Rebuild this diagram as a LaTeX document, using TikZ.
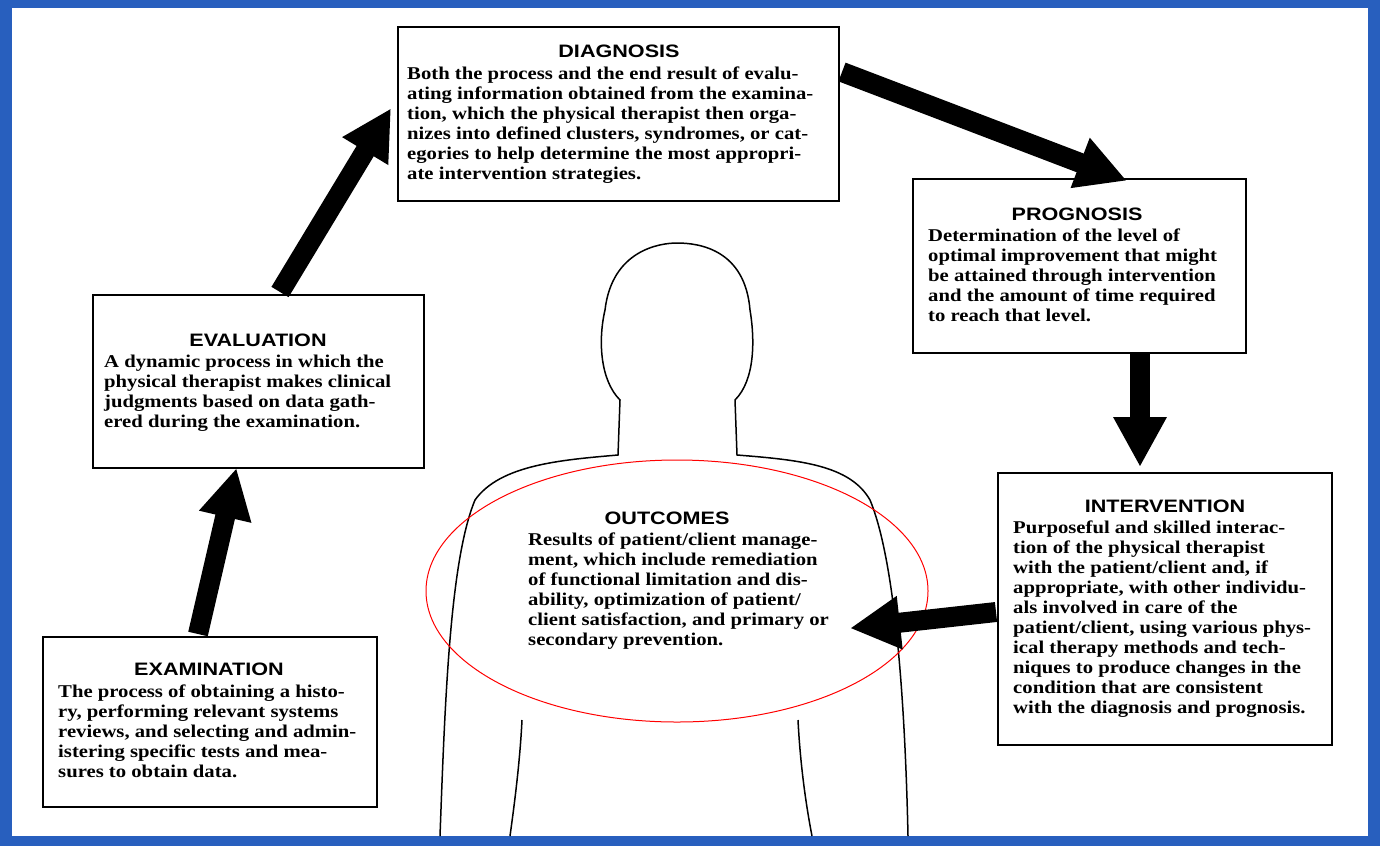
\documentclass[tikz,border=0pt]{standalone}
\usepackage{fontspec}
\setmainfont{Liberation Serif}[FakeStretch=1.15]
\setsansfont{Liberation Sans}[FakeStretch=1.2]
\usetikzlibrary{arrows.meta}
\definecolor{slide}{RGB}{40,95,190}
\tikzset{
 box/.style={draw,line width=2pt,fill=white,anchor=north west,inner sep=0pt},
 body/.style={anchor=north west,align=left,font=\fontsize{18}{20}\selectfont\bfseries,inner sep=0pt},
 ttl/.style={font=\fontsize{18}{20}\selectfont\sffamily\bfseries,inner sep=0pt},
 big/.style={line width=20pt,-{Triangle[width=50pt,length=50pt]},shorten >=-2pt}
}
\begin{document}
\begin{tikzpicture}[x=1pt,y=-1pt]
\useasboundingbox (0,0) rectangle (1380,846);
\fill[slide] (0,0) rectangle (1380,846);
\fill[white] (12,8) rectangle (1368,836);
% silhouette
\draw[line width=1.5pt] (440,836) .. controls (445,700) and (450,560) .. (475,500)
 .. controls (500,465) and (560,460) .. (618,455) -- (620,400)
 .. controls (600,380) and (598,340) .. (605,310)
 .. controls (612,250) and (660,243) .. (677,243)
 .. controls (700,243) and (745,250) .. (750,310)
 .. controls (755,340) and (755,380) .. (735,400) -- (737,455)
 .. controls (800,460) and (850,465) .. (870,500)
 .. controls (895,560) and (905,700) .. (908,836);
\draw[line width=1.5pt] (522,720) .. controls (520,760) and (515,800) .. (510,836);
\draw[line width=1.5pt] (798,720) .. controls (800,760) and (805,800) .. (812,836);
\draw[red,line width=1pt] (677,591) ellipse [x radius=251, y radius=131];
% boxes
\node[box,minimum width=441pt,minimum height=174pt] (dia) at (397,26) {};
\node[ttl] at (619,51) {DIAGNOSIS};
\node[body] at (407,67) {Both the process and the end result of evalu-\\ating information obtained from the examina-\\tion, which the physical therapist then orga-\\nizes into defined clusters, syndromes, or cat-\\egories to help determine the most appropri-\\ate intervention strategies.};
\node[box,minimum width=333pt,minimum height=174pt] (pro) at (912,178) {};
\node[ttl] at (1077,214) {PROGNOSIS};
\node[body] at (928,229) {Determination of the level of\\optimal improvement that might\\be attained through intervention\\and the amount of time required\\to reach that level.};
\node[box,minimum width=331pt,minimum height=173pt] (eva) at (92,294) {};
\node[ttl] at (258,340) {EVALUATION};
\node[body] at (104,355) {A dynamic process in which the\\physical therapist makes clinical\\judgments based on data gath-\\ered during the examination.};
\node[box,minimum width=334pt,minimum height=272pt] (int) at (997,472) {};
\node[ttl] at (1165,506) {INTERVENTION};
\node[body] at (1013,521) {Purposeful and skilled interac-\\tion of the physical therapist\\with the patient/client and, if\\appropriate, with other individu-\\als involved in care of the\\patient/client, using various phys-\\ical therapy methods and tech-\\niques to produce changes in the\\condition that are consistent\\with the diagnosis and prognosis.};
\node[box,minimum width=334pt,minimum height=170pt] (exa) at (42,636) {};
\node[ttl] at (209,669) {EXAMINATION};
\node[body] at (58,685) {The process of obtaining a histo-\\ry, performing relevant systems\\reviews, and selecting and admin-\\istering specific tests and mea-\\sures to obtain data.};
\node[ttl] (out) at (667,518) {OUTCOMES};
\node[body] at (528,533) {Results of patient/client manage-\\ment, which include remediation\\of functional limitation and dis-\\ability, optimization of patient/\\client satisfaction, and primary or\\secondary prevention.};
% arrows
\coordinate (a1) at (198,634); \coordinate (b1) at (236,470);
\coordinate (a2) at (280,292); \coordinate (b2) at (390,110);
\coordinate (a3) at (842,72); \coordinate (b3) at (1125,180);
\coordinate (a4) at (1140,353); \coordinate (b4) at (1140,465);
\coordinate (a5) at (996,612); \coordinate (b5) at (852,628);
\foreach \i in {1,...,5} \draw[big] (a\i) -- (b\i);
\end{tikzpicture}
\end{document}
